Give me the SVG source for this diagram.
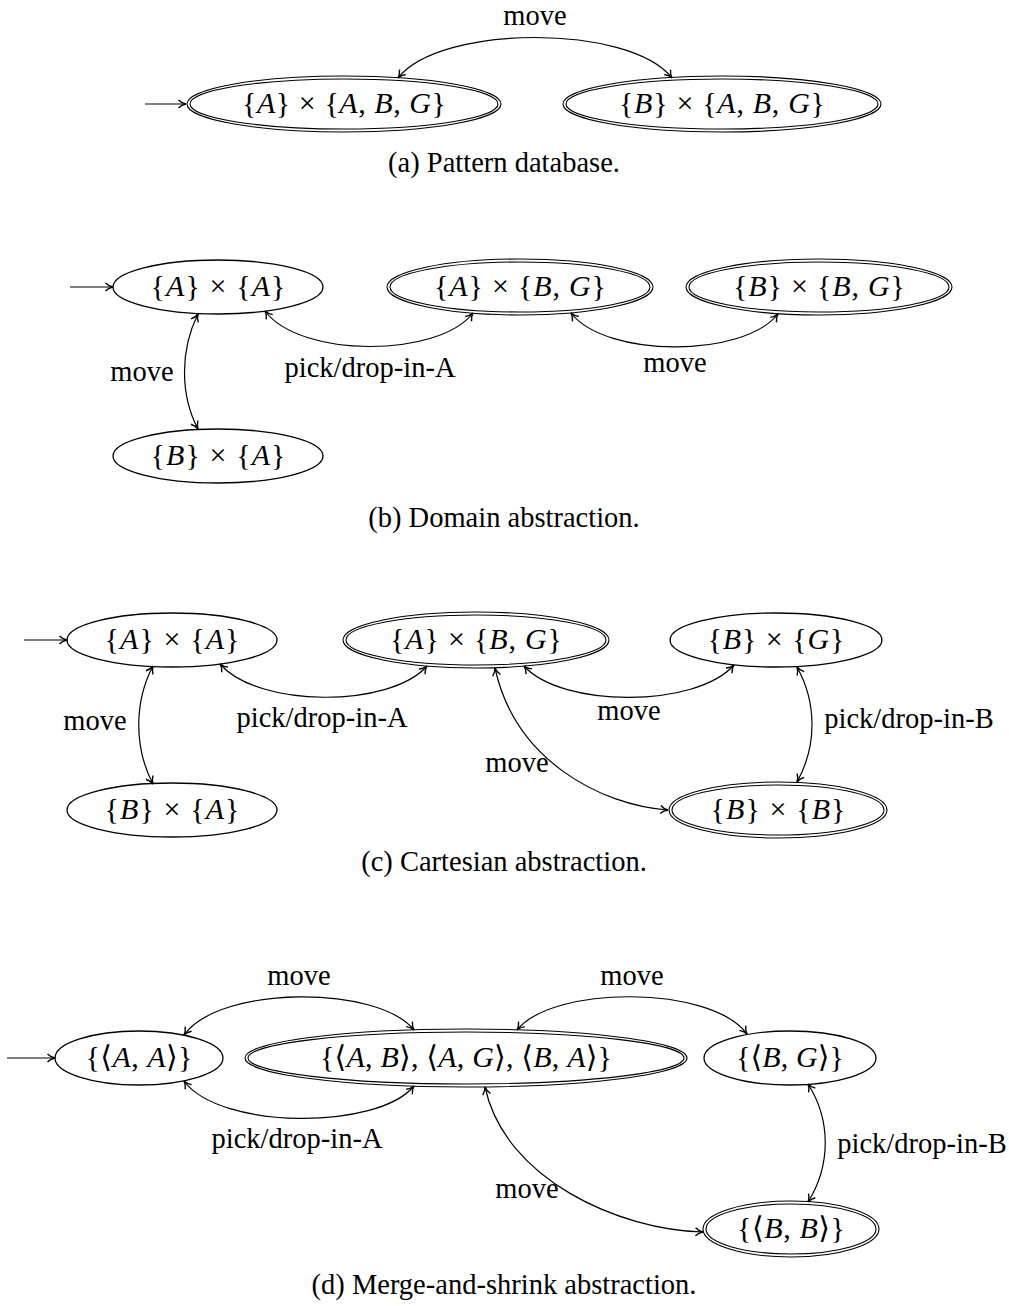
<svg xmlns="http://www.w3.org/2000/svg" width="1009" height="1306" viewBox="0 0 1009 1306">
<style>
.bg{fill:#fff}
.st{fill:none;stroke:#000;stroke-width:1.3}
.db{fill:none;stroke:#000;stroke-width:1.1}
.ed{fill:none;stroke:#000;stroke-width:1.2;marker-end:url(#arr)}
.bi{fill:none;stroke:#000;stroke-width:1.2;marker-start:url(#arr);marker-end:url(#arr)}
.nl{font-family:"Liberation Serif","DejaVu Serif",serif;font-size:30px;text-anchor:middle;fill:#000}
.i{font-style:italic}
.lb{font-family:"Liberation Serif","Times New Roman",serif;font-size:28.5px;text-anchor:middle;fill:#000}
</style>
<defs>
<marker id="arr" viewBox="-9 -6 11 12" refX="0" refY="0" markerWidth="11" markerHeight="12" markerUnits="userSpaceOnUse" orient="auto-start-reverse">
<path d="M-7.5,-4 C-5,-1.5 -2,-0.4 0,0 C-2,0.4 -5,1.5 -7.5,4" fill="none" stroke="#000" stroke-width="1.4"/>
</marker>
</defs>
<rect class="bg" x="0" y="0" width="1009" height="1306"/>

<!-- (a) Pattern database -->
<g id="a-nodes">
<g id="a1"><ellipse class="db" cx="344" cy="104" rx="157" ry="28"/><ellipse class="db" cx="344" cy="104" rx="154" ry="25"/><text class="nl" x="344" y="113" textLength="204">{<tspan class="i">A</tspan>} × {<tspan class="i">A</tspan>, <tspan class="i">B</tspan>, <tspan class="i">G</tspan>}</text></g>
<g id="a2"><ellipse class="db" cx="722" cy="104" rx="159" ry="28"/><ellipse class="db" cx="722" cy="104" rx="156" ry="25"/><text class="nl" x="722" y="113" textLength="206">{<tspan class="i">B</tspan>} × {<tspan class="i">A</tspan>, <tspan class="i">B</tspan>, <tspan class="i">G</tspan>}</text></g>
</g>
<g id="a-edges">
<path class="ed" d="M145,104 L186,104"/>
<path class="bi" d="M398,78 C440,24 630,24 672,78"/>
<text class="lb" x="535" y="25">move</text>
</g>
<text class="lb" x="504" y="172">(a) Pattern database.</text>

<!-- (b) Domain abstraction -->
<g id="b-nodes">
<g id="b1"><ellipse class="st" cx="218" cy="287" rx="105" ry="27"/><text class="nl" x="218" y="296" textLength="135">{<tspan class="i">A</tspan>} × {<tspan class="i">A</tspan>}</text></g>
<g id="b2"><ellipse class="db" cx="520" cy="287" rx="133" ry="28"/><ellipse class="db" cx="520" cy="287" rx="130" ry="25"/><text class="nl" x="520" y="296" textLength="172">{<tspan class="i">A</tspan>} × {<tspan class="i">B</tspan>, <tspan class="i">G</tspan>}</text></g>
<g id="b3"><ellipse class="db" cx="819" cy="287" rx="133" ry="28"/><ellipse class="db" cx="819" cy="287" rx="130" ry="25"/><text class="nl" x="819" y="296" textLength="172">{<tspan class="i">B</tspan>} × {<tspan class="i">B</tspan>, <tspan class="i">G</tspan>}</text></g>
<g id="b4"><ellipse class="st" cx="218" cy="456" rx="105" ry="27"/><text class="nl" x="218" y="465" textLength="135">{<tspan class="i">B</tspan>} × {<tspan class="i">A</tspan>}</text></g>
</g>
<g id="b-edges">
<path class="ed" d="M70,287 L113,287"/>
<path class="bi" d="M198,314 C180,350 180,395 198,429"/>
<path class="bi" d="M265,311 C300,358 438,358 473,313"/>
<path class="bi" d="M571,313 C606,358 743,358 778,314"/>
<text class="lb" x="142" y="381">move</text>
<text class="lb" x="370" y="377">pick/drop-in-A</text>
<text class="lb" x="675" y="372">move</text>
</g>
<text class="lb" x="504" y="527">(b) Domain abstraction.</text>

<!-- (c) Cartesian abstraction -->
<g id="c-nodes">
<g id="c1"><ellipse class="st" cx="172" cy="640" rx="105" ry="27"/><text class="nl" x="172" y="649" textLength="135">{<tspan class="i">A</tspan>} × {<tspan class="i">A</tspan>}</text></g>
<g id="c2"><ellipse class="db" cx="476" cy="640" rx="133" ry="28"/><ellipse class="db" cx="476" cy="640" rx="130" ry="25"/><text class="nl" x="476" y="649" textLength="172">{<tspan class="i">A</tspan>} × {<tspan class="i">B</tspan>, <tspan class="i">G</tspan>}</text></g>
<g id="c3"><ellipse class="st" cx="776" cy="640" rx="106" ry="27"/><text class="nl" x="776" y="649" textLength="137">{<tspan class="i">B</tspan>} × {<tspan class="i">G</tspan>}</text></g>
<g id="c4"><ellipse class="st" cx="172" cy="810" rx="105" ry="27"/><text class="nl" x="172" y="819" textLength="135">{<tspan class="i">B</tspan>} × {<tspan class="i">A</tspan>}</text></g>
<g id="c5"><ellipse class="db" cx="778" cy="810" rx="109" ry="28"/><ellipse class="db" cx="778" cy="810" rx="106" ry="25"/><text class="nl" x="778" y="819" textLength="135">{<tspan class="i">B</tspan>} × {<tspan class="i">B</tspan>}</text></g>
</g>
<g id="c-edges">
<path class="ed" d="M24,640 L67,640"/>
<path class="bi" d="M153,666 C134,702 134,748 153,784"/>
<path class="bi" d="M220,664 C258,708 390,708 427,666"/>
<path class="bi" d="M524,666 C562,708 696,708 734,665"/>
<path class="bi" d="M797,667 C817,703 817,746 797,782"/>
<path class="bi" d="M495,668 C515,760 600,805 668,810"/>
<text class="lb" x="95" y="730">move</text>
<text class="lb" x="322" y="727">pick/drop-in-A</text>
<text class="lb" x="629" y="720">move</text>
<text class="lb" x="909" y="728">pick/drop-in-B</text>
<text class="lb" x="517" y="772">move</text>
</g>
<text class="lb" x="504" y="871">(c) Cartesian abstraction.</text>

<!-- (d) Merge-and-shrink abstraction -->
<g id="d-nodes">
<g id="d1"><ellipse class="st" cx="139" cy="1058" rx="84" ry="27"/><text class="nl" x="139" y="1067" textLength="107">{⟨<tspan class="i">A</tspan>, <tspan class="i">A</tspan>⟩}</text></g>
<g id="d2"><ellipse class="db" cx="466" cy="1058" rx="221" ry="29"/><ellipse class="db" cx="466" cy="1058" rx="218" ry="26"/><text class="nl" x="466" y="1067" textLength="292">{⟨<tspan class="i">A</tspan>, <tspan class="i">B</tspan>⟩, ⟨<tspan class="i">A</tspan>, <tspan class="i">G</tspan>⟩, ⟨<tspan class="i">B</tspan>, <tspan class="i">A</tspan>⟩}</text></g>
<g id="d3"><ellipse class="st" cx="790" cy="1058" rx="86" ry="27"/><text class="nl" x="790" y="1067" textLength="108">{⟨<tspan class="i">B</tspan>, <tspan class="i">G</tspan>⟩}</text></g>
<g id="d4"><ellipse class="db" cx="791" cy="1229" rx="88" ry="28"/><ellipse class="db" cx="791" cy="1229" rx="85" ry="25"/><text class="nl" x="791" y="1238" textLength="108">{⟨<tspan class="i">B</tspan>, <tspan class="i">B</tspan>⟩}</text></g>
</g>
<g id="d-edges">
<path class="ed" d="M7,1058 L55,1058"/>
<path class="bi" d="M184,1035 C220,985 378,985 414,1030"/>
<path class="bi" d="M517,1030 C553,985 711,985 747,1034"/>
<path class="bi" d="M184,1081 C220,1130 378,1130 414,1086"/>
<path class="bi" d="M808,1084 C831,1120 831,1165 808,1202"/>
<path class="bi" d="M485,1087 C505,1180 620,1230 703,1232"/>
<text class="lb" x="299" y="985">move</text>
<text class="lb" x="632" y="985">move</text>
<text class="lb" x="297" y="1148">pick/drop-in-A</text>
<text class="lb" x="922" y="1153">pick/drop-in-B</text>
<text class="lb" x="527" y="1198">move</text>
</g>
<text class="lb" x="504" y="1294">(d) Merge-and-shrink abstraction.</text>
</svg>
